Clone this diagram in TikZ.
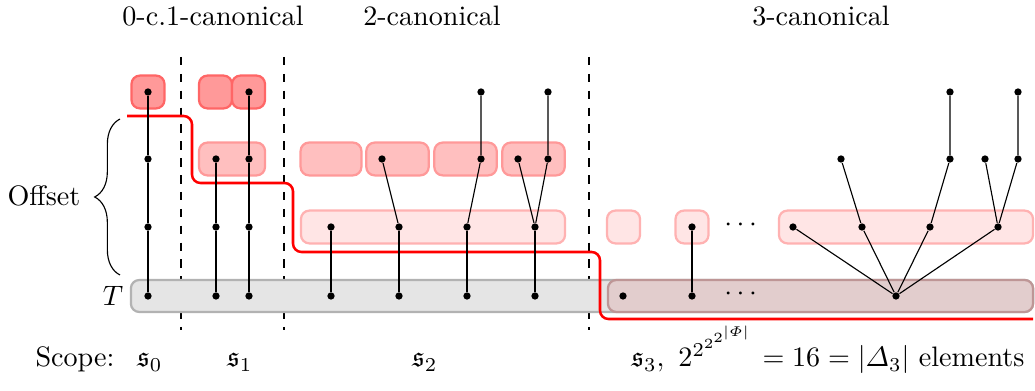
\documentclass[tikz,border=0pt]{standalone}
\usepackage{amsmath}
\usepackage{amssymb}
\usepackage{tikz}
\usetikzlibrary{positioning,calc,decorations.pathreplacing}

\definecolor{tredfill}{RGB}{226,205,205}
\definecolor{tredline}{RGB}{190,150,150}

\tikzset{
  dot/.style={circle,fill=black,inner sep=0pt,minimum size=2.6pt},
  cell/.style={rectangle,rounded corners=3pt,line width=0.8pt,minimum height=0.41cm,inner sep=0pt},
  topbox/.style={cell,fill=red!40,draw=red!60},
  midbox/.style={cell,fill=red!25,draw=red!40},
  lowbox/.style={cell,fill=red!10,draw=red!30},
  tbox/.style={cell,fill=black!10,draw=black!30,minimum height=0.4cm},
  tredbox/.style={cell,fill=tredfill,draw=tredline,minimum height=0.4cm},
  scopeline/.style={dashed,thin},
}

\begin{document}
\begin{tikzpicture}[x=0.0125cm,y=-0.0125cm]
	\useasboundingbox (0,0) rectangle (1035,391);

	% headings
	\node[anchor=base] (h01) at (213,26) {0-c.1-canonical};
	\node[anchor=base] (h2) at (432,26) {2-canonical};
	\node[anchor=base] (h3) at (821,26) {3-canonical};

	% scope separators
	\draw[scopeline] (181,57) -- (181,330);
	\draw[scopeline] (284,57) -- (284,330);
	\draw[scopeline] (589,57) -- (589,330);

	% boxes
	\node[tbox, minimum width=11.275cm] (Tbox) at (582,296) {};
	\node[tredbox, minimum width=5.3125cm] (T3box) at (820.5,296) {};

	\node[topbox, minimum width=0.4125cm] (top0) at (148,92) {};
	\node[topbox, minimum width=0.4125cm] (top1a) at (215.5,92) {};
	\node[topbox, minimum width=0.4125cm] (top1b) at (248.5,92) {};

	\node[midbox, minimum width=0.825cm] (mid1) at (232,159) {};
	\node[midbox, minimum width=0.76cm] (mid2a) at (331,159) {};
	\node[midbox, minimum width=0.78cm] (mid2b) at (397.5,159) {};
	\node[midbox, minimum width=0.78cm] (mid2c) at (465.5,159) {};
	\node[midbox, minimum width=0.78cm] (mid2d) at (533.5,159) {};

	\node[lowbox, minimum width=3.3cm] (low2) at (433,227) {};
	\node[lowbox, minimum width=0.4125cm] (low3a) at (623.5,227) {};
	\node[lowbox, minimum width=0.4125cm] (low3b) at (692,227) {};
	\node[lowbox, minimum width=3.175cm] (low3c) at (906,227) {};

	% offset boundary
	\draw[red,line width=0.9pt,rounded corners=3pt] (127,116) -- (192,116) -- (192,183) -- (293,183) -- (293,252) -- (600,252) -- (600,319) -- (1033,319);

	% scope s0
	\node[dot] (a0) at (148,92) {};
	\node[dot] (a1) at (148,159) {};
	\node[dot] (a2) at (148,227) {};
	\node[dot] (a3) at (148,296) {};
	\draw (a0) -- (a1) -- (a2) -- (a3);

	% scope s1
	\node[dot] (b1) at (216,159) {};
	\node[dot] (b2) at (216,227) {};
	\node[dot] (b3) at (216,296) {};
	\node[dot] (c0) at (249,92) {};
	\node[dot] (c1) at (249,159) {};
	\node[dot] (c2) at (249,227) {};
	\node[dot] (c3) at (249,296) {};
	\draw (b1) -- (b2) -- (b3);
	\draw (c0) -- (c1) -- (c2) -- (c3);

	% scope s2
	\node[dot] (d2) at (331,227) {};
	\node[dot] (e2) at (399,227) {};
	\node[dot] (f2) at (467,227) {};
	\node[dot] (g2) at (535,227) {};
	\node[dot] (d3) at (331,296) {};
	\node[dot] (e3) at (399,296) {};
	\node[dot] (f3) at (467,296) {};
	\node[dot] (g3) at (535,296) {};
	\node[dot] (m1) at (382,159) {};
	\node[dot] (n1) at (481,159) {};
	\node[dot] (o1) at (518,159) {};
	\node[dot] (p1) at (548,159) {};
	\node[dot] (n0) at (481,92) {};
	\node[dot] (p0) at (548,92) {};
	\draw (d2) -- (d3);
	\draw (e2) -- (e3);
	\draw (f2) -- (f3);
	\draw (g2) -- (g3);
	\draw (m1) -- (e2);
	\draw (n0) -- (n1) -- (f2);
	\draw (o1) -- (g2);
	\draw (p0) -- (p1) -- (g2);

	% scope s3
	\node[dot] (h3) at (623,296) {};
	\node[dot] (i3) at (692,296) {};
	\node (dd3) at (743,294) {$\cdots$};
	\node[dot] (k3) at (896,296) {};
	\node[dot] (i2) at (692,227) {};
	\node (dd2) at (743,225) {$\cdots$};
	\node[dot] (q2) at (793,227) {};
	\node[dot] (r2) at (862,227) {};
	\node[dot] (s2) at (930,227) {};
	\node[dot] (t2) at (998,227) {};
	\node[dot] (r1) at (841,159) {};
	\node[dot] (s1) at (950,159) {};
	\node[dot] (t1) at (985,159) {};
	\node[dot] (u1) at (1018,159) {};
	\node[dot] (s0) at (950,92) {};
	\node[dot] (u0) at (1018,92) {};
	\draw (i2) -- (i3);
	\draw (q2) -- (k3);
	\draw (r2) -- (k3);
	\draw (s2) -- (k3);
	\draw (t2) -- (k3);
	\draw (r1) -- (r2);
	\draw (s0) -- (s1) -- (s2);
	\draw (t1) -- (t2);
	\draw (u0) -- (u1) -- (t2);

	% left labels
	\draw[decorate,decoration={brace,amplitude=9pt}] (120,275) -- (120,119);
	\node (offset) at (44,196) {Offset};
	\node (T) at (113,296) {$T$};

	% scopes
	\node[anchor=base] (scope) at (75,367) {Scope:};
	\node[anchor=base] (sc0) at (150,367) {$\mathfrak{s}_0$};
	\node[anchor=base] (sc1) at (240,367) {$\mathfrak{s}_1$};
	\node[anchor=base] (sc2) at (425,367) {$\mathfrak{s}_2$};
	\node[anchor=base] (sc3) at (828,367) {$\mathfrak{s}_3,\ 2^{2^{2^{2^{|\varPhi|}}}}=16=|\varDelta_3|$ elements};
\end{tikzpicture}
\end{document}
